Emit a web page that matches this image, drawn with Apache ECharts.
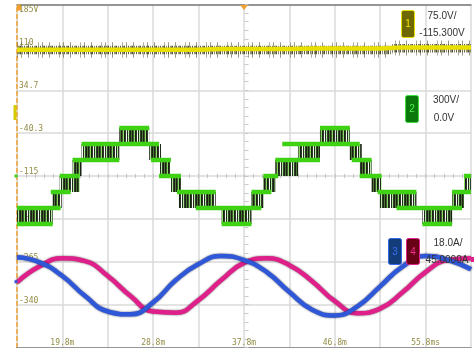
<!DOCTYPE html>
<html>
<head>
<meta charset="utf-8">
<style>
html, body { margin: 0; padding: 0; background: #fff; }
#chart { width: 474px; height: 348px; }
</style>
<script src="https://cdn.jsdelivr.net/npm/echarts@6/dist/echarts.min.js"></script>
</head>
<body>
<div id="chart"></div>
<script>
// tick labels, one per division (time in ms, screen volts)
const timeLabels = ['', '19.8m', '', '28.8m', '', '37.8m', '', '46.8m', '', '55.8ms', ''];
const voltLabels = ['', '-340', '-265', '-190', '-115', '-40.3', '34.7', '110', '185V'];

// smooth traces, read every half division
const sampleTimes = [15.3, 17.55, 19.8, 22.05, 24.3, 26.55, 28.8, 31.05, 33.3, 35.55, 37.8,
	40.05, 42.3, 44.55, 46.8, 49.05, 51.3, 53.55, 55.8, 58.05, 60.3];
const ch1Values = [106, 106, 106, 106, 106, 106, 106, 106, 106, 107, 107, 107, 107, 108, 108, 108, 108, 110, 110, 110, 110];
const ch3Values = [-257, -266, -290, -325, -352, -357, -336, -297, -269, -255, -262,
	-283, -318, -349, -359, -343, -308, -273, -255, -262, -278];
const ch4Values = [-301, -273, -259, -264, -290, -325, -352, -354, -332, -297, -267,
	-259, -271, -299, -334, -355, -347, -318, -283, -262, -259];

// ch1 noise envelope: [start, end, upper, lower]
const ch1NoiseOuter = [[15.3, 52.5, 119, 92], [52.5, 60.3, 122, 96]];
const ch1NoiseInner = [[15.3, 52.5, 113, 98], [52.5, 60.3, 116, 101]];

// ch2 output levels: [start, end, level]
const ch2Levels = [
	[15.3, 18.84, -199], [15.3, 19.63, -171], [18.65, 20.62, -143], [19.53, 21.5, -115],
	[20.81, 25.44, -87], [21.7, 29.38, -59], [25.44, 28.4, -31], [28.59, 30.56, -87],
	[29.38, 31.55, -115], [31.15, 35.0, -143], [33.02, 39.52, -171], [35.58, 38.54, -199],
	[38.54, 40.51, -143], [39.72, 41.2, -115], [40.9, 45.33, -87], [41.59, 49.27, -59],
	[45.33, 48.29, -31], [48.48, 50.45, -87], [49.27, 51.44, -115], [51.04, 54.89, -143],
	[52.92, 59.41, -171], [55.48, 58.43, -199], [58.43, 60.3, -143], [59.61, 60.3, -115],
];
// ch2 switching between two levels: [start, end, upper, lower]
const ch2Switching = [
	[15.3, 18.84, -171, -199], [18.84, 19.73, -143, -171], [19.53, 21.5, -115, -143],
	[20.81, 21.7, -87, -115], [21.7, 25.44, -59, -87], [25.44, 28.4, -31, -59],
	[28.4, 29.58, -59, -87], [29.38, 30.56, -87, -115], [30.56, 31.55, -115, -143],
	[31.35, 35.0, -143, -171], [35.58, 38.54, -171, -199], [38.54, 39.72, -143, -171],
	[39.72, 40.9, -115, -143], [40.9, 43.17, -87, -115], [43.17, 45.33, -59, -87],
	[45.33, 48.29, -31, -59], [48.29, 49.47, -59, -87], [49.27, 50.45, -87, -115],
	[50.45, 51.44, -115, -143], [51.24, 54.89, -143, -171], [55.48, 58.43, -171, -199],
	[58.43, 59.61, -143, -171], [59.61, 60.3, -115, -143],
];

const color = {
	grid: '#dadada',
	border: '#7c7c7c',
	marker: '#f0a030',
	label: '#938c45',
	text: '#333333',
	ch1: '#e8e000',
	ch2: '#3fd214',
	ch3: '#2f58d8',
	ch4: '#e0208a',
};
const monoFont = 'DejaVu Sans Mono';
const textFont = '10px "Liberation Sans"';

function stripes(cols) {
	const c = document.createElement('canvas');
	c.width = cols.length;
	c.height = 1;
	const ctx = c.getContext('2d');
	cols.forEach((col, i) => {
		if (!col) return;
		ctx.fillStyle = col;
		ctx.fillRect(i, 0, 1, 1);
	});
	return { image: c, repeat: 'repeat' };
}

const greenChop = stripes(['#1a2014', '#3c5a2c', '#8ad866', '#1a2014', '#2a3a22', null, '#202c1a', '#b4e8a0', '#30402a', '#1a2014', '#4c7a36']);
const olivDense = stripes(['rgba(70,68,30,0.85)', null, 'rgba(110,108,60,0.75)', 'rgba(60,58,25,0.6)', 'rgba(50,48,20,0.85)', null, 'rgba(90,88,40,0.7)', null]);
const olivSparse = stripes(['rgba(90,88,50,0.6)', null, null, null, null, null, null,
	'rgba(70,68,35,0.55)', null, null, null, null, null, null, null, null, null, 'rgba(80,78,40,0.45)', null, null, null]);

function bandItem(fill) {
	return (params, api) => {
		const a = api.coord([api.value(0), api.value(2)]);
		const b = api.coord([api.value(1), api.value(3)]);
		return {
			type: 'rect',
			shape: { x: a[0], y: a[1], width: b[0] - a[0], height: b[1] - a[1] },
			style: { fill },
		};
	};
}

function levelItem(params, api) {
	const a = api.coord([api.value(0), api.value(2)]);
	const b = api.coord([api.value(1), api.value(2)]);
	return {
		type: 'line',
		shape: { x1: a[0], y1: a[1], x2: b[0], y2: b[1] },
		style: { stroke: color.ch2, lineWidth: 4.5 },
	};
}

const pairs = values => sampleTimes.map((t, i) => [t, values[i]]);
const timeIndex = v => Math.round((v - 15.3) / 4.5);
const voltIndex = v => Math.round((v + 415) / 75);

const xBase = { type: 'value', min: 15.3, max: 60.3, interval: 4.5 };
const yBase = { type: 'value', min: -415, max: 185, interval: 75 };
const none = { show: false };
const centerTick = { lineStyle: { color: '#c4c4c4', width: 1 } };
const borderLine = { show: true, onZero: false, lineStyle: { color: color.border, width: 1.5 } };

function centerAxis(base, offset, inside) {
	return {
		...base,
		position: base === xBase ? 'bottom' : 'left',
		offset,
		axisLine: { show: false, onZero: false },
		axisLabel: none,
		splitLine: none,
		axisTick: { show: true, inside, length: 2, ...centerTick },
		minorTick: { show: true, splitNumber: 5, length: 2, ...centerTick },
	};
}

const chart = echarts.init(document.getElementById('chart'), null, { renderer: 'canvas' });

chart.setOption({
	animation: false,
	backgroundColor: '#ffffff',
	grid: { left: 17, top: 4.5, width: 459, height: 343 },
	xAxis: [
		{
			...xBase,
			position: 'bottom',
			axisLine: borderLine,
			axisTick: none,
			splitLine: { show: true, lineStyle: { color: color.grid, width: 1.5 } },
			axisLabel: {
				inside: true,
				margin: 1,
				color: color.label,
				fontFamily: monoFont,
				fontSize: 8,
				formatter: v => timeLabels[timeIndex(v)],
			},
		},
		{
			...xBase,
			position: 'top',
			axisLine: borderLine,
			axisTick: none,
			axisLabel: none,
			splitLine: none,
		},
		centerAxis(xBase, -171.5, true),
		centerAxis(xBase, -171.5, false),
	],
	yAxis: [
		{
			...yBase,
			position: 'left',
			axisLine: { show: true, onZero: false, lineStyle: { color: color.marker, width: 1.5, type: [4, 3] } },
			axisTick: none,
			splitLine: { show: true, lineStyle: { color: color.grid, width: 1.5 } },
			axisLabel: {
				inside: true,
				margin: 2,
				showMaxLabel: false,
				verticalAlign: 'bottom',
				color: color.label,
				fontFamily: monoFont,
				fontSize: 8,
				formatter: v => voltLabels[voltIndex(v)],
			},
		},
		centerAxis(yBase, -229.5, true),
		centerAxis(yBase, -229.5, false),
	],
	series: [
		{
			type: 'custom',
			renderItem: bandItem(olivSparse),
			data: ch1NoiseOuter,
			encode: { x: [0, 1], y: [2, 3] },
			clip: true,
			silent: true,
		},
		{
			type: 'custom',
			renderItem: bandItem(olivDense),
			data: ch1NoiseInner,
			encode: { x: [0, 1], y: [2, 3] },
			clip: true,
			silent: true,
		},
		{
			type: 'line',
			data: pairs(ch1Values),
			symbol: 'none',
			lineStyle: { color: color.ch1, width: 4.5 },
			markPoint: {
				silent: true,
				label: none,
				data: [
					{ coord: [15.3, -4], symbol: 'rect', symbolSize: [3, 15], symbolOffset: [-2, 0], itemStyle: { color: '#d4cb00' } },
					{ coord: [15.3, 185], symbol: 'rect', symbolSize: [4, 6], symbolOffset: [2, 3], itemStyle: { color: color.marker } },
					{ coord: [37.8, 185], symbol: 'path://M0,0 L10,0 L5,6 Z', symbolSize: [8, 5], symbolOffset: [0, 3], itemStyle: { color: color.marker } },
				],
			},
		},
		{
			type: 'custom',
			renderItem: bandItem(greenChop),
			data: ch2Switching,
			encode: { x: [0, 1], y: [2, 3] },
			clip: true,
			silent: true,
		},
		{
			type: 'custom',
			renderItem: levelItem,
			data: ch2Levels,
			encode: { x: [0, 1], y: 2 },
			clip: true,
			silent: true,
			markPoint: {
				silent: true,
				label: none,
				data: [{ coord: [15.3, -115], symbol: 'rect', symbolSize: [3, 3], symbolOffset: [-1, 0], itemStyle: { color: color.ch2 } }],
			},
		},
		{
			type: 'line',
			data: pairs(ch4Values),
			symbol: 'none',
			smooth: 0.5,
			lineStyle: { color: color.ch4, width: 4.5, shadowColor: 'rgba(40,0,20,0.7)', shadowBlur: 2 },
		},
		{
			type: 'line',
			data: pairs(ch3Values),
			symbol: 'none',
			smooth: 0.5,
			lineStyle: { color: color.ch3, width: 4.5, shadowColor: 'rgba(0,0,40,0.7)', shadowBlur: 2 },
			markPoint: {
				silent: true,
				label: none,
				data: [{ coord: [15.3, -300], symbol: 'rect', symbolSize: [3, 3], symbolOffset: [-1, 0], itemStyle: { color: color.ch3 } }],
			},
		},
	],
	graphic: [
		{ type: 'text', z: 100, style: { x: 19, y: 6, text: voltLabels[8], fill: color.label, font: '8px "DejaVu Sans Mono"', verticalAlign: 'top' } },
		// channel 1
		{ type: 'rect', z: 100, shape: { x: 401.5, y: 10.5, width: 13, height: 27, r: 2 }, style: { fill: '#6e6800', stroke: '#e6de00', lineWidth: 1 } },
		{ type: 'text', z: 101, style: { x: 408, y: 24, text: '1', fill: '#eee600', font: textFont, align: 'center', verticalAlign: 'middle' } },
		{ type: 'text', z: 101, style: { x: 442, y: 16, text: '75.0V/', fill: color.text, font: textFont, align: 'center', verticalAlign: 'middle' } },
		{ type: 'text', z: 101, style: { x: 442, y: 33, text: '-115.300V', fill: color.text, font: textFont, align: 'center', verticalAlign: 'middle' } },
		// channel 2
		{ type: 'rect', z: 100, shape: { x: 405.5, y: 95.5, width: 13, height: 27, r: 2 }, style: { fill: '#0b780b', stroke: '#3ee23e', lineWidth: 1 } },
		{ type: 'text', z: 101, style: { x: 412, y: 109, text: '2', fill: '#4cf04c', font: textFont, align: 'center', verticalAlign: 'middle' } },
		{ type: 'text', z: 101, style: { x: 446, y: 100, text: '300V/', fill: color.text, font: textFont, align: 'center', verticalAlign: 'middle' } },
		{ type: 'text', z: 101, style: { x: 444, y: 118, text: '0.0V', fill: color.text, font: textFont, align: 'center', verticalAlign: 'middle' } },
		// channels 3 and 4
		{ type: 'rect', z: 100, shape: { x: 388.5, y: 238.5, width: 13, height: 26, r: 2 }, style: { fill: '#123c7a', stroke: '#3466e8', lineWidth: 1 } },
		{ type: 'text', z: 101, style: { x: 395, y: 252, text: '3', fill: '#3c6ef0', font: textFont, align: 'center', verticalAlign: 'middle' } },
		{ type: 'rect', z: 100, shape: { x: 406.5, y: 238.5, width: 13, height: 26, r: 2 }, style: { fill: '#680016', stroke: '#e0208a', lineWidth: 1 } },
		{ type: 'text', z: 101, style: { x: 413, y: 252, text: '4', fill: '#f0308f', font: textFont, align: 'center', verticalAlign: 'middle' } },
		{ type: 'text', z: 101, style: { x: 448, y: 243.5, text: '18.0A/', fill: color.text, font: textFont, align: 'center', verticalAlign: 'middle' } },
		{ type: 'text', z: 101, style: { x: 447, y: 260, text: '45.0000A', fill: color.text, font: textFont, align: 'center', verticalAlign: 'middle' } },
		{ type: 'rect', z: 101, shape: { x: 471, y: 257, width: 4, height: 5 }, style: { fill: color.ch4 } },
	],
});
</script>
</body>
</html>
